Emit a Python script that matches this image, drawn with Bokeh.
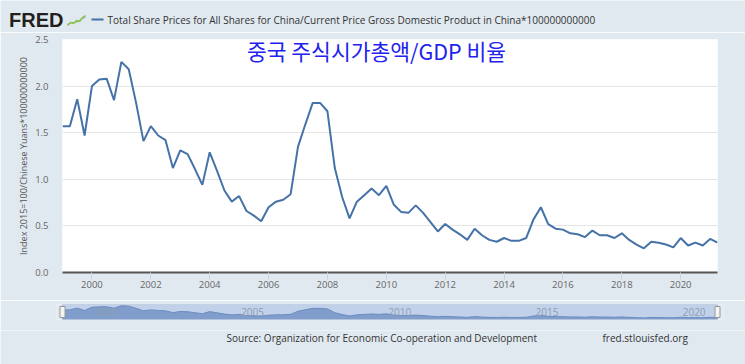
from bokeh.plotting import figure
from bokeh.models import Range1d, FixedTicker, NumeralTickFormatter, Label
from bokeh.embed import file_html
from bokeh.resources import INLINE
from bokeh.core.properties import value

# ---------------- data (quarterly, starting 1999Q1) ----------------
start_year = 1999
ratio = [
    1.57, 1.57, 1.86, 1.47,   # 1999
    2.00, 2.07, 2.08, 1.85,   # 2000
    2.26, 2.18, 1.82, 1.41,   # 2001
    1.57, 1.47, 1.42, 1.12,   # 2002
    1.31, 1.27, 1.11, 0.94,   # 2003
    1.29, 1.09, 0.88, 0.76,   # 2004
    0.82, 0.66, 0.61, 0.55,   # 2005
    0.70, 0.76, 0.78, 0.84,   # 2006
    1.35, 1.59, 1.82, 1.82,   # 2007
    1.73, 1.12, 0.81, 0.58,   # 2008
    0.76, 0.83, 0.90, 0.83,   # 2009
    0.93, 0.73, 0.65, 0.64,   # 2010
    0.72, 0.64, 0.54, 0.44,   # 2011
    0.52, 0.46, 0.41, 0.35,   # 2012
    0.47, 0.40, 0.35, 0.33,   # 2013
    0.37, 0.34, 0.34, 0.37,   # 2014
    0.57, 0.70, 0.52, 0.47,   # 2015
    0.46, 0.42, 0.41, 0.38,   # 2016
    0.45, 0.40, 0.40, 0.37,   # 2017
    0.42, 0.35, 0.30, 0.26,   # 2018
    0.33, 0.32, 0.30, 0.27,   # 2019
    0.37, 0.29, 0.32, 0.29,   # 2020
    0.36, 0.32,               # 2021
]
x_tick_years = [2000, 2002, 2004, 2006, 2008, 2010, 2012, 2014, 2016, 2018, 2020]
y_ticks = [0.0, 0.5, 1.0, 1.5, 2.0, 2.5]
nav_years = [2000, 2005, 2010, 2015, 2020]

series_name = ("Total Share Prices for All Shares for China/Current Price Gross "
               "Domestic Product in China*100000000000")
y_label = "Index 2015=100/Chinese Yuans*100000000000"
annotation = "중국 주식시가총액/GDP 비율"
source_text = "Source: Organization for Economic Co-operation and Development"
site_text = "fred.stlouisfed.org"

# ---------------- styles / geometry ----------------
BG = "#e1e9f0"
LINE = "#4572a7"
FONT = "Open Sans"
W = 745
BL, BR = 62, 28               # main plot left / right borders
FRAME_W = W - BL - BR

x = [start_year + i / 4 for i in range(len(ratio))]
x_start = start_year
x_end = x[-1]
y_top = 2.5
KX = FRAME_W / (x_end - x_start)


def pixel_fig(height):
    """a figure whose frame is the whole canvas, in pixel coordinates"""
    f = figure(width=W, height=height, x_range=Range1d(0, W),
               y_range=Range1d(height, 0), output_backend="svg",
               toolbar_location=None, x_axis_location=None,
               y_axis_location=None, min_border=0, min_border_left=0,
               min_border_right=0, min_border_top=0, min_border_bottom=0)
    f.grid.visible = False
    f.outline_line_color = None
    f.background_fill_color = BG
    f.border_fill_color = BG
    return f


# ---------------- header (page y 0..32) ----------------
HH = 32
hdr = pixel_fig(HH)
hdr.text(x=[8.5], y=[19.7], text=["FRED"], text_font=value("Liberation Sans"),
         text_font_style="bold", text_font_size="20px", text_color="#231f20",
         text_baseline="middle")
icon_blue = ([67, 71, 75, 79, 82, 85], [24, 22, 22, 20, 18, 16])
icon_green = ([67, 70, 73, 76, 79, 82, 85], [25, 22, 23, 20, 21, 17, 15])
hdr.line(icon_blue[0], icon_blue[1], line_color="#7fa7d6", line_width=1.2)
hdr.line(icon_green[0], icon_green[1], line_color="#8cc63f", line_width=1.5)
hdr.line([91, 103], [19, 19], line_color=LINE, line_width=2)
hdr.text(x=[107], y=[19], text=[series_name], text_font=value(FONT),
         text_font_size="10px", text_color="#333333", text_baseline="middle")

# ---------------- main chart (page y 32..300, frame 39..272) ----------------
M_TOP, M_FRAME_H, M_H = 7, 233, 268
p = figure(width=W, height=M_H, x_range=Range1d(x_start, x_end),
           y_range=Range1d(0, y_top), output_backend="svg",
           toolbar_location=None, min_border_left=BL, min_border_right=BR,
           min_border_top=M_TOP, min_border_bottom=M_H - M_TOP - M_FRAME_H)
p.background_fill_color = "#ffffff"
p.border_fill_color = BG
p.outline_line_color = None
KY = M_FRAME_H / y_top

p.line(x, ratio, line_color=LINE, line_width=2)

p.xgrid.visible = False
p.ygrid.ticker = FixedTicker(ticks=y_ticks)
p.ygrid.grid_line_color = "#e6e6e6"

xa = p.xaxis[0]
xa.ticker = FixedTicker(ticks=x_tick_years)
xa.axis_line_color = "#555555"
xa.axis_line_width = 2
xa.major_tick_line_color = "#c8d2de"
xa.major_tick_out = 7
xa.major_tick_in = 0
xa.minor_tick_line_color = None
xa.major_label_standoff = 1
xa.major_label_text_font = FONT
xa.major_label_text_font_size = "9.5px"
xa.major_label_text_color = "#666666"

ya = p.yaxis[0]
ya.ticker = FixedTicker(ticks=y_ticks)
ya.formatter = NumeralTickFormatter(format="0.0")
ya.axis_line_color = None
ya.major_tick_line_color = None
ya.minor_tick_line_color = None
ya.major_tick_out = 0
ya.major_tick_in = 0
ya.major_label_standoff = 14
ya.major_label_text_font = FONT
ya.major_label_text_font_size = "9.5px"
ya.major_label_text_color = "#666666"
ya.axis_label = y_label
ya.axis_label_standoff = 2
ya.axis_label_text_font = FONT
ya.axis_label_text_font_size = "9px"
ya.axis_label_text_font_style = "normal"
ya.axis_label_text_color = "#555555"

# Korean annotation inside the plot (centre at page x 376, y 50)
p.add_layout(Label(x=x_start + (376 - BL) / KX, y=(272 - 50) / KY,
                   text=annotation, text_align="center", text_baseline="middle",
                   text_font="Noto Sans CJK KR", text_font_size="21.5px",
                   text_color="#2222ee"))

# ---------------- navigator (page y 300..330, frame 304..319) ----------------
N_TOP, N_FRAME_H, N_H = 4, 15, 30
NBL, NBR = BL - 6, BR - 6
pad = 6 / KX
nav_top = 2.45
nav = figure(width=W, height=N_H, x_range=Range1d(x_start - pad, x_end + pad),
             y_range=Range1d(0, nav_top), output_backend="svg",
             toolbar_location=None, x_axis_location=None, y_axis_location=None,
             min_border_left=NBL, min_border_right=NBR, min_border_top=N_TOP,
             min_border_bottom=N_H - N_TOP - N_FRAME_H)
nav.grid.visible = False
nav.outline_line_color = None
nav.background_fill_color = BG
nav.border_fill_color = BG
nav.quad(left=[x_start], right=[x_end], bottom=[0], top=[nav_top],
         fill_color="#c1d1e9", line_color="#a9bad3", line_width=1)
nav.varea(x=x, y1=0, y2=ratio, fill_color="#809dcb")
nav.line(x, ratio, line_color="#6b8cc1", line_width=1)
nav.text(x=nav_years, y=[nav_top / 2] * len(nav_years),
         text=[str(v) for v in nav_years], x_offset=2,
         text_baseline="middle", text_font=value(FONT), text_font_size="10px",
         text_color="#8e9db5")
nav.rect(x=[x_start, x_end], y=[nav_top / 2] * 2, width=5, height=11,
         width_units="screen", height_units="screen",
         fill_color="#f4f4f4", line_color="#999999", line_width=1)

# ---------------- footer (page y 330..364) ----------------
FH = 34
ftr = pixel_fig(FH)
ftr.text(x=[226, 602], y=[7, 7], text=[source_text, site_text],
         text_font=value(FONT), text_font_size="10px", text_color="#333333",
         text_baseline="middle")

open("out.html", "w").write(file_html([hdr, p, nav, ftr], INLINE))
